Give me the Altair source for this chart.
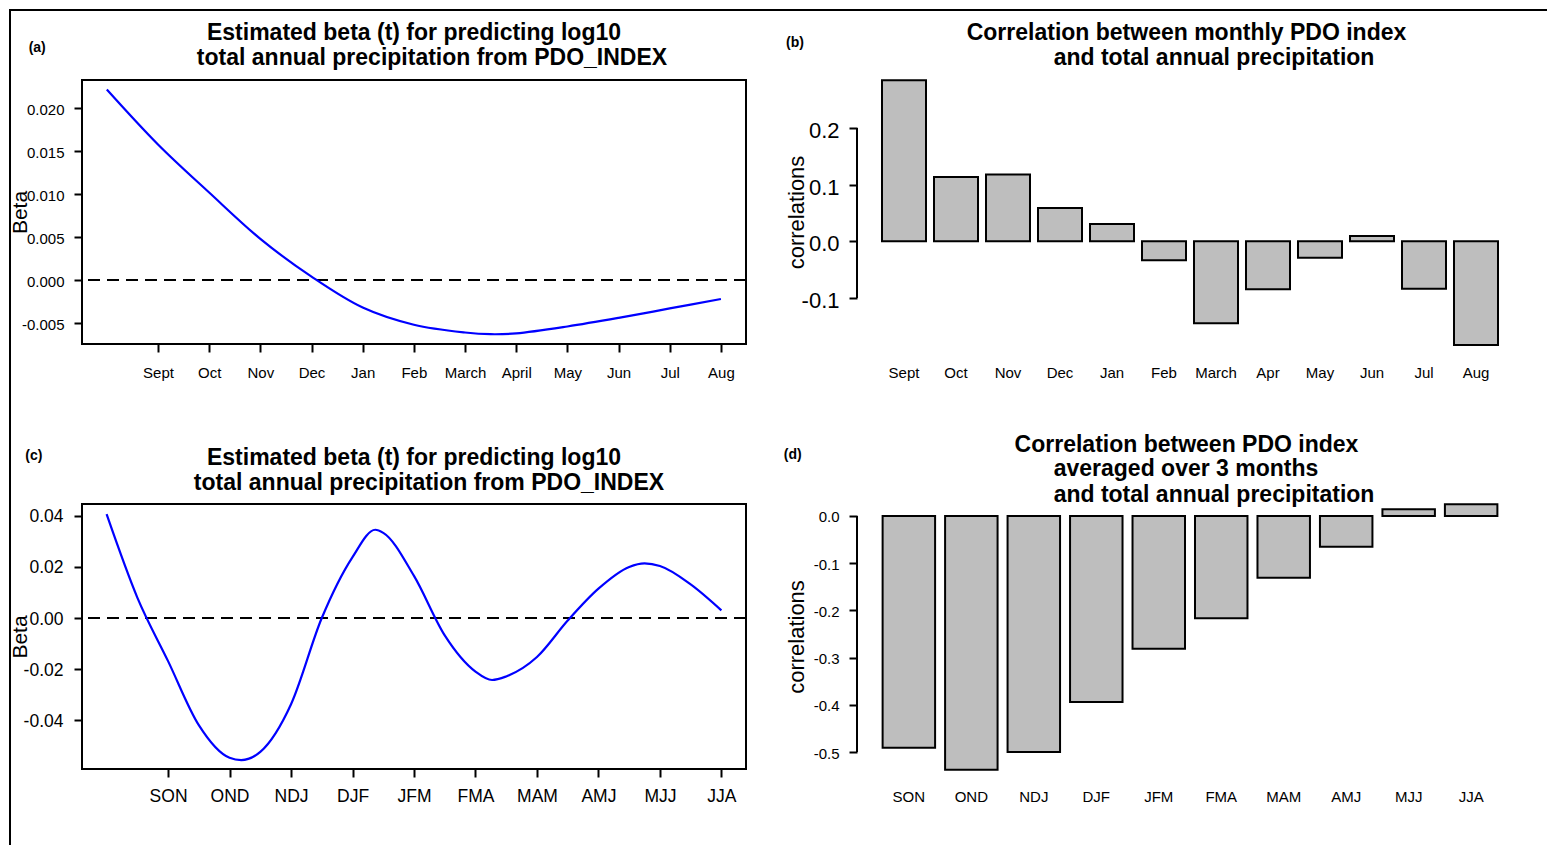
import json
import altair as alt
import pandas as pd

FONT = "Liberation Sans"

# ---------------- data ----------------
months_a = ["Sept", "Oct", "Nov", "Dec", "Jan", "Feb", "March", "April", "May", "Jun", "Jul", "Aug"]
months_b = ["Sept", "Oct", "Nov", "Dec", "Jan", "Feb", "March", "Apr", "May", "Jun", "Jul", "Aug"]
seasons = ["SON", "OND", "NDJ", "DJF", "JFM", "FMA", "MAM", "AMJ", "MJJ", "JJA"]

# (a) estimated beta(t), monthly
beta_a_t = [0, 1, 2, 3, 4, 5, 6, 7, 7.5, 8, 9, 10, 11, 12]
beta_a = [0.0222, 0.0158, 0.0102, 0.0048, 0.0004, -0.0032, -0.0052, -0.0061,
          -0.0063, -0.0062, -0.0054, -0.0044, -0.0033, -0.0022]

# (c) estimated beta(t), 3-month
beta_c_t = [0, 0.5, 1, 1.5, 2, 2.19, 2.5, 3, 3.5, 4, 4.37, 4.5, 5, 5.5, 6, 6.27, 6.5,
            7, 7.5, 8, 8.5, 8.75, 9, 9.5, 10]
beta_c = [0.0407, 0.0080, -0.0169, -0.0420, -0.0548, -0.0557, -0.0525, -0.0338, 0.0,
          0.0239, 0.0346, 0.0334, 0.0165, -0.0068, -0.0210, -0.0243, -0.0229, -0.0153,
          -0.0010, 0.0115, 0.0200, 0.0214, 0.0204, 0.0132, 0.0030]

# (b) monthly correlations
corr_monthly = [0.284, 0.1135, 0.118, 0.0588, 0.0305, -0.0335, -0.1447, -0.0847,
                -0.0289, 0.0094, -0.0836, -0.183]

# (d) 3-month correlations
corr_3month = [-0.491, -0.5375, -0.500, -0.394, -0.281, -0.2167, -0.1306, -0.065, 0.0141, 0.0247]

ticks_a_y = [-0.005, 0.0, 0.005, 0.010, 0.015, 0.020]
ticks_b_y = [-0.1, 0.0, 0.1, 0.2]
ticks_c_y = [-0.04, -0.02, 0.0, 0.02, 0.04]
ticks_d_y = [-0.5, -0.4, -0.3, -0.2, -0.1, 0.0]

title_a = ["Estimated beta (t) for predicting log10", "total annual precipitation from PDO_INDEX"]
title_b = ["Correlation between monthly PDO index", "and total annual precipitation"]
title_c = ["Estimated beta (t) for predicting log10", "total annual precipitation from PDO_INDEX"]
title_d = ["Correlation between PDO index", "averaged over 3 months", "and total annual precipitation"]


def fmt(d):
    return "replace(format(datum.value, '%s'), '\u2212', '-')" % d


def text_layer(s, x, y, size, baseline="alphabetic"):
    return alt.Chart(pd.DataFrame({"lab": [s]})).mark_text(
        font=FONT, fontSize=size, fontWeight="bold", align="center", baseline=baseline,
        color="black").encode(x=alt.value(x), y=alt.value(y), text="lab:N")


def title_layers(lines, xs, ys):
    return [text_layer(s, x, y, 23) for s, x, y in zip(lines, xs, ys)]


def zero_line():
    return alt.Chart(pd.DataFrame({"z": [0.0]})).mark_rule(
        color="black", strokeWidth=2, strokeDash=[12, 7]).encode(y="z:Q")


W1, W2, H, H2 = 664, 666, 264, 265

# ---------------- panel (a) ----------------
xa = alt.X("t:Q", scale=alt.Scale(domain=[-0.485, 12.49], nice=False, zero=False),
           axis=alt.Axis(values=list(range(1, 13)), title=None, domain=False, grid=False,
                         labelExpr=json.dumps(months_a) + "[datum.value - 1]",
                         tickSize=8, labelPadding=13, labelFontSize=15))
ya = alt.Y("beta:Q", scale=alt.Scale(domain=[-0.00744, 0.0233], nice=False, zero=False),
           axis=alt.Axis(values=ticks_a_y, labelExpr=fmt(".3f"), domain=False, grid=False,
                         tickSize=8, labelPadding=10, labelFontSize=15, labelOffset=1.5,
                         title="Beta", titleFontSize=21, titleX=-62, titleBaseline="middle",
                         titleAngle=270))
line_a = alt.Chart(pd.DataFrame({"t": beta_a_t, "beta": beta_a})).mark_line(
    color="#0000FF", strokeWidth=2.2, interpolate="catmull-rom").encode(x=xa, y=ya)

# outer figure border (top and left edges), drawn as thin filled rects
frame_df = pd.DataFrame({"k": [0]})
frame_top = alt.Chart(frame_df).mark_rect(color="black").encode(
    x=alt.value(-73), x2=alt.value(1465), y=alt.value(-71), y2=alt.value(-69))
frame_left = alt.Chart(frame_df).mark_rect(color="black").encode(
    x=alt.value(-73), x2=alt.value(-71), y=alt.value(-71), y2=alt.value(765))

panel_a = alt.layer(
    zero_line(), line_a, text_layer("(a)", -44.8, -31.6, 14, "middle"),
    *title_layers(title_a, [332, 350], [-40, -15]),
    frame_top, frame_left
).properties(width=W1, height=H, view=alt.ViewBackground(stroke="black", strokeWidth=2))

# ---------------- panel (b) ----------------
yb_scale = alt.Scale(domain=[-0.1812, 0.2846], nice=False, zero=False)
yb_axis = alt.Axis(values=ticks_b_y, labelExpr=fmt(".1f"), domain=False, grid=False,
                   tickSize=8, labelPadding=10, labelFontSize=22, labelOffset=2.5,
                   title="correlations", titleFontSize=22, titleX=-60.4,
                   titleBaseline="middle", titleAngle=270)
bars_b = alt.Chart(pd.DataFrame({"month": months_b, "corr": corr_monthly})).mark_bar(
    fill="#BEBEBE", stroke="black", strokeWidth=2).encode(
    x=alt.X("month:N", sort=months_b,
            scale=alt.Scale(paddingInner=0.1538, paddingOuter=0.4808),
            axis=alt.Axis(title=None, labelAngle=0, ticks=False, tickSize=0, domain=False,
                          labelPadding=21, labelFontSize=15)),
    y=alt.Y("corr:Q", scale=yb_scale, axis=yb_axis),
    y2=alt.datum(0))
axis_b = alt.Chart(pd.DataFrame({"lo": [min(ticks_b_y)], "hi": [max(ticks_b_y)]})).mark_rule(
    color="black", strokeWidth=2).encode(
    x=alt.value(0), y=alt.Y("lo:Q", scale=yb_scale, axis=yb_axis), y2="hi:Q")
panel_b = alt.layer(
    bars_b, axis_b, text_layer("(b)", -62, -36.6, 14, "middle"),
    *title_layers(title_b, [329.5, 357], [-40, -15])
).properties(width=W2, height=H)

# ---------------- panel (c) ----------------
xc = alt.X("t:Q", scale=alt.Scale(domain=[-0.40, 10.40], nice=False, zero=False),
           axis=alt.Axis(values=list(range(1, 11)), title=None, domain=False, grid=False,
                         labelExpr=json.dumps(seasons) + "[datum.value - 1]",
                         tickSize=8, labelPadding=10, labelFontSize=17.5))
yc = alt.Y("beta:Q", scale=alt.Scale(domain=[-0.0592, 0.0447], nice=False, zero=False),
           axis=alt.Axis(values=ticks_c_y, labelExpr=fmt(".2f"), domain=False, grid=False,
                         tickSize=8, labelPadding=11, labelFontSize=17.5, labelOffset=1,
                         title="Beta", titleFontSize=21, titleX=-62, titleBaseline="middle",
                         titleAngle=270))
line_c = alt.Chart(pd.DataFrame({"t": beta_c_t, "beta": beta_c})).mark_line(
    color="#0000FF", strokeWidth=2.2, interpolate="monotone").encode(x=xc, y=yc)
panel_c = alt.layer(
    zero_line(), line_c, text_layer("(c)", -48.2, -48.3, 14, "middle"),
    *title_layers(title_c, [332, 347], [-39.5, -14])
).properties(width=W1, height=H2, view=alt.ViewBackground(stroke="black", strokeWidth=2))

# ---------------- panel (d) ----------------
yd_scale = alt.Scale(domain=[-0.536, 0.0254], nice=False, zero=False)
yd_axis = alt.Axis(values=ticks_d_y, labelExpr=fmt(".1f"), domain=False, grid=False,
                   tickSize=8, labelPadding=10, labelFontSize=15, labelOffset=1,
                   title="correlations", titleFontSize=22, titleX=-60.8,
                   titleBaseline="middle", titleAngle=270)
bars_d = alt.Chart(pd.DataFrame({"season": seasons, "corr": corr_3month})).mark_bar(
    fill="#BEBEBE", stroke="black", strokeWidth=2).encode(
    x=alt.X("season:N", sort=seasons,
            scale=alt.Scale(paddingInner=0.16, paddingOuter=0.41),
            axis=alt.Axis(title=None, labelAngle=0, ticks=False, tickSize=0, domain=False,
                          labelPadding=20.5, labelFontSize=15)),
    y=alt.Y("corr:Q", scale=yd_scale, axis=yd_axis),
    y2=alt.datum(0))
axis_d = alt.Chart(pd.DataFrame({"lo": [min(ticks_d_y)], "hi": [max(ticks_d_y)]})).mark_rule(
    color="black", strokeWidth=2).encode(
    x=alt.value(0), y=alt.Y("lo:Q", scale=yd_scale, axis=yd_axis), y2="hi:Q")
panel_d = alt.layer(
    bars_d, axis_d, text_layer("(d)", -64.3, -48.6, 14, "middle"),
    *title_layers(title_d, [329.5, 329, 357], [-52.5, -28, -2])
).properties(width=W2, height=H2)

chart = alt.concat(panel_a, panel_b, panel_c, panel_d, columns=2,
                   spacing={"row": 160, "column": 111}, bounds="flush", align="each").properties(
    padding=0, background="white"
).configure_view(stroke="transparent").configure_axis(
    labelFont=FONT, titleFont=FONT, labelColor="black", titleColor="black",
    tickColor="black", tickWidth=2, titleFontWeight="normal"
)

chart.save("out.html", embed_options={"renderer": "svg", "actions": False})
